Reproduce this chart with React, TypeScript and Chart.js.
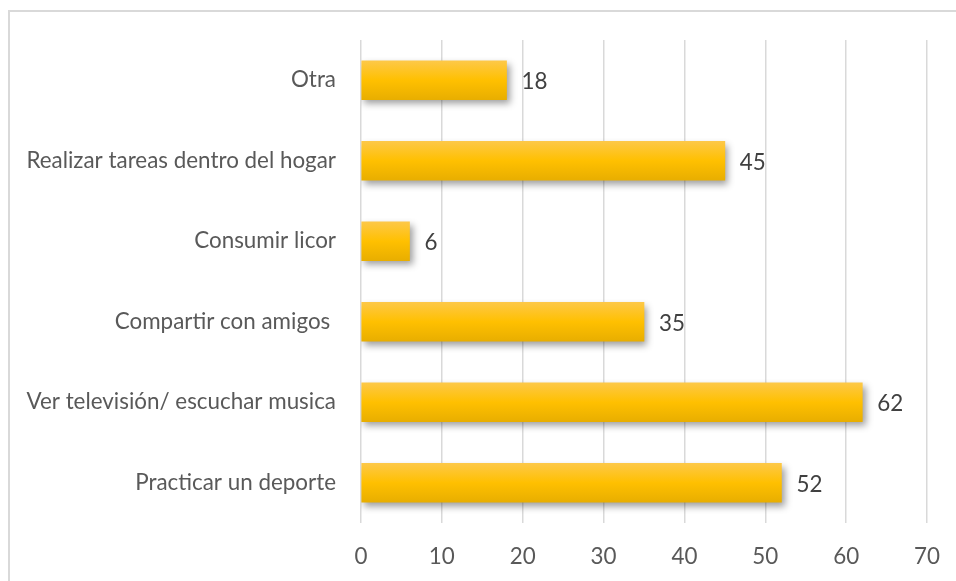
import React, { useEffect, useRef } from "react";
import { Chart, registerables } from "chart.js";

Chart.register(...registerables);

const categories = [
  "Otra",
  "Realizar tareas dentro del hogar",
  "Consumir licor",
  "Compartir con amigos ",
  "Ver televisión/ escuchar musica",
  "Practicar un deporte",
];
const values = [18, 45, 6, 35, 62, 52];
const xTicks = [0, 10, 20, 30, 40, 50, 60, 70];

const FONT = "Lato, 'Noto Sans', sans-serif";
const FONT_SIZE = 22.4;
const BAR_H = 39;

const shadowPlugin = {
  id: "barShadow",
  beforeDatasetsDraw(chart: any) {
    const ctx = chart.ctx;
    ctx.save();
    ctx.shadowColor = "rgba(0,0,0,0.38)";
    ctx.shadowBlur = 7;
    ctx.shadowOffsetX = 3;
    ctx.shadowOffsetY = 4;
  },
  afterDatasetsDraw(chart: any) {
    const ctx = chart.ctx;
    ctx.restore();
    const meta = chart.getDatasetMeta(0);
    ctx.save();
    ctx.font = `${FONT_SIZE}px ${FONT}`;
    ctx.fillStyle = "#404040";
    ctx.textAlign = "left";
    ctx.textBaseline = "middle";
    meta.data.forEach((bar: any, i: number) => {
      ctx.fillText(String(values[i]), bar.x + 15, bar.y + 2);
    });
    ctx.restore();
  },
};

export default function App() {
  const ref = useRef<HTMLCanvasElement | null>(null);
  useEffect(() => {
    if (!ref.current) return;
    const chart = new Chart(ref.current, {
      type: "bar",
      data: {
        labels: categories,
        datasets: [
          {
            data: values,
            barThickness: BAR_H,
            borderWidth: 0,
            backgroundColor: (c: any) => {
              const ys = c.chart.scales && c.chart.scales.y;
              if (!ys || c.dataIndex === undefined) return "#ffc000";
              const cy = ys.getPixelForValue(c.dataIndex);
              if (!isFinite(cy)) return "#ffc000";
              const g = c.chart.ctx.createLinearGradient(0, cy - BAR_H / 2, 0, cy + BAR_H / 2);
              g.addColorStop(0, "#fdc848");
              g.addColorStop(0.5, "#ffc000");
              g.addColorStop(1, "#e8ae00");
              return g;
            },
          },
        ],
      },
      options: {
        indexAxis: "y",
        animation: false,
        responsive: false,
        events: [],
        layout: { padding: { top: 40, right: 29, left: 0, bottom: 0 } },
        plugins: { legend: { display: false }, tooltip: { enabled: false } },
        scales: {
          x: {
            min: 0,
            max: 70,
            afterBuildTicks: (axis: any) => {
              axis.ticks = xTicks.map((v) => ({ value: v }));
            },
            afterFit: (axis: any) => {
              axis.height = 58;
              axis.paddingLeft = 0;
              axis.paddingRight = 0;
            },
            grid: { color: "#d9d9d9", lineWidth: 1.5, drawTicks: false },
            border: { display: false },
            ticks: {
              padding: 20,
              color: "#595959",
              font: { family: FONT, size: FONT_SIZE },
            },
          },
          y: {
            afterFit: (axis: any) => {
              axis.width = 361;
              axis.paddingTop = 0;
              axis.paddingBottom = 0;
            },
            grid: { display: false, drawTicks: false },
            border: { display: false },
            ticks: {
              padding: 25,
              color: "#595959",
              font: { family: FONT, size: FONT_SIZE },
            },
          },
        },
      },
      plugins: [shadowPlugin],
    } as any);
    return () => chart.destroy();
  }, []);

  return (
    <div style={{ position: "fixed", left: 0, top: 0, width: 956, height: 581, overflow: "hidden", background: "#fff" }}>
      <div
        style={{
          position: "absolute",
          left: 8,
          top: 10,
          width: 2000,
          height: 2000,
          borderLeft: "2px solid #d9d9d9",
          borderTop: "2px solid #d9d9d9",
        }}
      />
      <canvas ref={ref} width={956} height={581} style={{ position: "absolute", left: 0, top: 0 }} />
    </div>
  );
}
